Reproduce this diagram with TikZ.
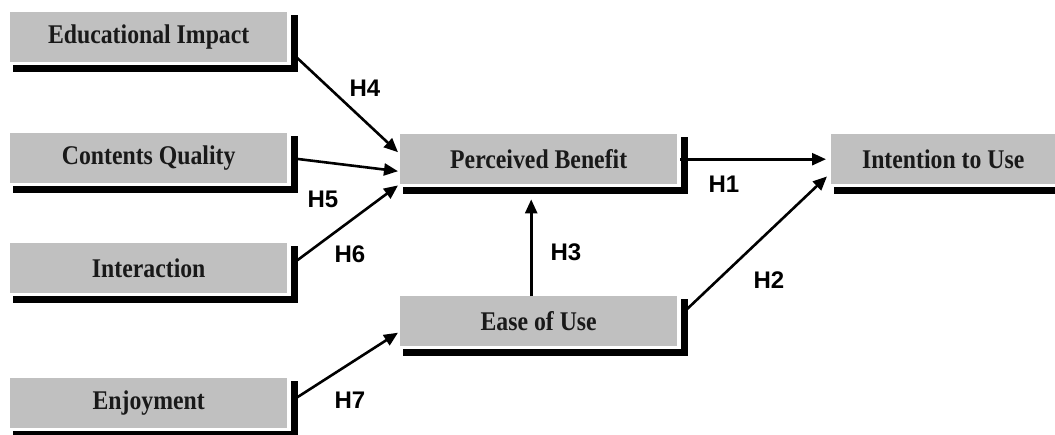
\documentclass[tikz,border=0pt]{standalone}
\usepackage{fontspec}
\usetikzlibrary{arrows.meta}
\newfontfamily\boxfont[FakeStretch=0.88]{Liberation Serif}
\newfontfamily\lblfont{Liberation Sans}
\definecolor{boxgray}{RGB}{192,192,192}
\newcommand\boxshadow[1]{\draw[shadowline] ([shift={(3pt,-6.5pt)}]#1.south west) -| ([shift={(7.5pt,-3pt)}]#1.north east);}
\tikzset{
  box/.style={rectangle, fill=boxgray, draw=none, inner sep=0pt, anchor=north west,
    minimum width=277pt, minimum height=50pt, text=black!90,
    font=\boxfont\bfseries\fontsize{27}{32}\selectfont},
  shadowline/.style={line width=7pt, line join=miter, line cap=butt, black},
  conn/.style={line width=2.6pt, -{Triangle[length=14pt,width=12pt]}},
  lbl/.style={font=\lblfont\bfseries\fontsize{24}{28}\selectfont, inner sep=0pt}
}
\begin{document}
\begin{tikzpicture}[x=1pt,y=-1pt]
\useasboundingbox (0,0) rectangle (1055,434);
% boxes
\node[box] (ei) at (10,12) {Educational Impact};
\node[box] (cq) at (10,133) {Contents Quality};
\node[box] (ia) at (10,243) {Interaction};
\node[box] (en) at (10,378) {Enjoyment};
\node[box] (pb) at (400,134) {Perceived Benefit};
\node[box] (eu) at (400,296) {Ease of Use};
\node[box, minimum width=224pt] (iu) at (831,134) {Intention to Use};
% shadows
\boxshadow{ei}
\boxshadow{cq}
\boxshadow{ia}
\boxshadow{en}
\boxshadow{pb}
\boxshadow{eu}
\boxshadow{iu}
% connectors
\draw[conn] ([shift={(9pt,-20pt)}]ei.east) -- ([shift={(-2pt,7pt)}]pb.west);
\draw[conn] ([shift={(4pt,0pt)}]cq.east) -- ([shift={(-2pt,-12pt)}]pb.west);
\draw[conn] ([shift={(10pt,8pt)}]ia.east) -- ([shift={(-2pt,-1pt)}]pb.south west);
\draw[conn] ([shift={(3pt,0pt)}]pb.east) -- ([shift={(-5pt,0pt)}]iu.west);
\draw[conn] ([xshift=-7.5pt]eu.north) -- ([shift={(-7.5pt,-15pt)}]pb.south);
\draw[conn] ([shift={(9pt,11.5pt)}]eu.east) -- ([shift={(-4pt,8pt)}]iu.south west);
\draw[conn] ([shift={(10pt,6pt)}]en.east) -- ([shift={(-2pt,-11.5pt)}]eu.west);
% labels
\node[lbl] (h4) at (365,88) {H4};
\node[lbl] (h5) at (323,199) {H5};
\node[lbl] (h6) at (350,254) {H6};
\node[lbl] (h7) at (350,400) {H7};
\node[lbl] (h1) at (724,184) {H1};
\node[lbl] (h3) at (566,252) {H3};
\node[lbl] (h2) at (769,280) {H2};
\end{tikzpicture}
\end{document}
